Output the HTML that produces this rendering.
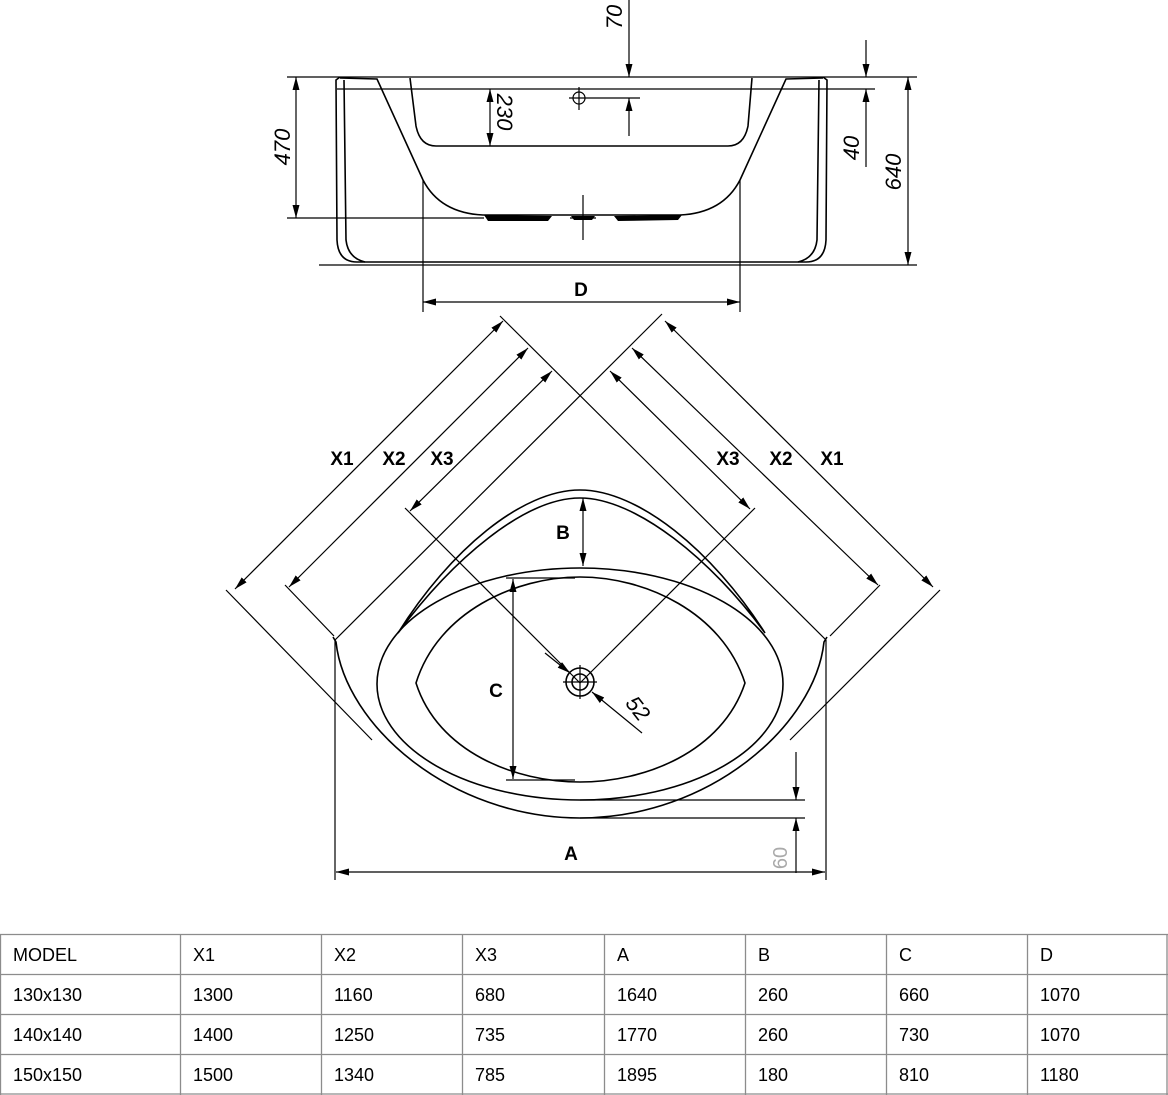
<!DOCTYPE html>
<html><head><meta charset="utf-8"><style>
html,body{margin:0;padding:0;background:#fff}
svg{display:block}
.l{stroke:#000;stroke-width:1.6;fill:none}
.t{stroke:#000;stroke-width:1.2;fill:none}
.b{font-family:"Liberation Sans",sans-serif;font-size:19px;font-weight:bold;fill:#000}
.n{font-family:"Liberation Sans",sans-serif;font-size:22px;font-style:italic;fill:#000}
.tb{font-family:"Liberation Sans",sans-serif;font-size:18px;fill:#000}
</style></head><body>
<svg width="1168" height="1095" viewBox="0 0 1168 1095" xmlns="http://www.w3.org/2000/svg">
<defs>
<marker id="a" markerWidth="14" markerHeight="8" refX="13" refY="3.5" orient="auto-start-reverse" markerUnits="userSpaceOnUse"><path d="M0,0 L13,3.5 L0,7 Z" fill="#000"/></marker>
</defs>

<!-- ===== SIDE VIEW ===== -->
<line class="t" x1="287" y1="77" x2="917" y2="77"/>
<line class="t" x1="337" y1="89" x2="875" y2="89"/>
<line class="t" x1="287" y1="218" x2="484" y2="218"/>
<line class="t" x1="319" y1="265" x2="917" y2="265"/>
<path class="l" d="M340,77 L336,80 L337,240 Q338,262 357,262 L806,262 Q825,262 826,240 L827,80 L823,77"/>
<path class="l" d="M344,80 L346,240 Q348,258 365,262 M819,80 L817,240 Q815,258 798,262"/>
<path class="l" d="M340,78 L377,79 L423,180 Q440,213 483,215 L680,215 Q723,213 740,180 L786,79 L823,78"/>
<path class="l" d="M410,78 L416,126 Q420,146 436,146 L728,146 Q744,146 748,126 L752,78"/>
<path d="M484,215 L552,216 L548,221 L488,221 Z M614,216 L682,215 L678,220 L618,221 Z M571,216 L595,216 L592,220 L574,220 Z" fill="#000"/>
<line class="t" x1="583" y1="195" x2="583" y2="240"/>
<line class="t" x1="570" y1="218" x2="596" y2="218"/>
<circle class="t" cx="579" cy="98" r="6"/>
<line class="t" x1="579" y1="87" x2="579" y2="110"/>
<line class="t" x1="569" y1="98" x2="640" y2="98"/>
<line class="t" x1="629" y1="0" x2="629" y2="77" marker-end="url(#a)"/>
<line class="t" x1="629" y1="136" x2="629" y2="98" marker-end="url(#a)"/>
<text class="n" transform="translate(622,17) rotate(-90)" text-anchor="middle">70</text>
<line class="t" x1="490" y1="89" x2="490" y2="146" marker-start="url(#a)" marker-end="url(#a)"/>
<text class="n" transform="translate(497,112) rotate(90)" text-anchor="middle">230</text>
<line class="t" x1="296" y1="77" x2="296" y2="218" marker-start="url(#a)" marker-end="url(#a)"/>
<text class="n" transform="translate(290,147) rotate(-90)" text-anchor="middle">470</text>
<line class="t" x1="866" y1="40" x2="866" y2="77" marker-end="url(#a)"/>
<line class="t" x1="866" y1="167" x2="866" y2="89" marker-end="url(#a)"/>
<text class="n" transform="translate(859,148) rotate(-90)" text-anchor="middle">40</text>
<line class="t" x1="908" y1="77" x2="908" y2="265" marker-start="url(#a)" marker-end="url(#a)"/>
<text class="n" transform="translate(901,172) rotate(-90)" text-anchor="middle">640</text>
<line class="t" x1="423" y1="180" x2="423" y2="312"/>
<line class="t" x1="740" y1="180" x2="740" y2="312"/>
<line class="t" x1="423" y1="302" x2="740" y2="302" marker-start="url(#a)" marker-end="url(#a)"/>
<text class="b" x="581" y="296" text-anchor="middle">D</text>

<!-- ===== PLAN VIEW ===== -->
<line class="t" x1="500" y1="316" x2="826" y2="640"/>
<line class="t" x1="662" y1="314" x2="335" y2="640"/>
<line class="t" x1="226" y1="590" x2="372" y2="740"/>
<line class="t" x1="285" y1="585" x2="334" y2="636"/>
<line class="t" x1="405" y1="508" x2="580" y2="683"/>
<line class="t" x1="940" y1="590" x2="790" y2="740"/>
<line class="t" x1="880" y1="585" x2="830" y2="636"/>
<line class="t" x1="755" y1="508" x2="580" y2="683"/>
<line class="t" x1="235" y1="589" x2="503" y2="321" marker-start="url(#a)" marker-end="url(#a)"/>
<line class="t" x1="289" y1="587" x2="528" y2="348" marker-start="url(#a)" marker-end="url(#a)"/>
<line class="t" x1="410" y1="511" x2="552" y2="371" marker-start="url(#a)" marker-end="url(#a)"/>
<line class="t" x1="933" y1="587" x2="665" y2="321" marker-start="url(#a)" marker-end="url(#a)"/>
<line class="t" x1="878" y1="585" x2="632" y2="348" marker-start="url(#a)" marker-end="url(#a)"/>
<line class="t" x1="750" y1="509" x2="610" y2="371" marker-start="url(#a)" marker-end="url(#a)"/>
<text class="b" x="342" y="465" text-anchor="middle">X1</text>
<text class="b" x="394" y="465" text-anchor="middle">X2</text>
<text class="b" x="442" y="465" text-anchor="middle">X3</text>
<text class="b" x="728" y="465" text-anchor="middle">X3</text>
<text class="b" x="781" y="465" text-anchor="middle">X2</text>
<text class="b" x="832" y="465" text-anchor="middle">X1</text>
<path class="l" d="M333,637 L336,642 C345,725 450,818 580,818 C710,818 815,725 824,642 L827,637"/>
<ellipse class="l" cx="580" cy="684" rx="203" ry="116"/>
<path class="l" d="M416,683 C438,612 515,577 580,577 C645,577 722,612 745,683 C722,752 645,782 580,782 C515,782 438,752 416,683 Z"/>
<path class="l" d="M398,633 C450,550 522,490 580,490 C638,490 712,550 765,633 C712,560 636,498 580,498 C524,498 452,560 398,633 Z"/>
<line class="t" x1="583" y1="498" x2="583" y2="566" marker-start="url(#a)" marker-end="url(#a)"/>
<text class="b" x="563" y="539" text-anchor="middle">B</text>
<line class="t" x1="506" y1="578" x2="575" y2="578"/>
<line class="t" x1="506" y1="780" x2="575" y2="780"/>
<line class="t" x1="513" y1="579" x2="513" y2="779" marker-start="url(#a)" marker-end="url(#a)"/>
<text class="b" x="496" y="697" text-anchor="middle">C</text>
<circle class="l" cx="580" cy="682" r="14"/>
<circle class="l" cx="580" cy="682" r="8"/>
<line class="t" x1="580" y1="665" x2="580" y2="699"/>
<line class="t" x1="563" y1="682" x2="597" y2="682"/>
<line class="t" x1="545" y1="653" x2="570" y2="673" marker-end="url(#a)"/>
<line class="t" x1="642" y1="733" x2="592" y2="692" marker-end="url(#a)"/>
<text class="n" transform="translate(632,713) rotate(52)" text-anchor="middle">52</text>
<line class="t" x1="580" y1="800" x2="805" y2="800"/>
<line class="t" x1="580" y1="818" x2="805" y2="818"/>
<line class="t" x1="796" y1="752" x2="796" y2="800" marker-end="url(#a)"/>
<line class="t" x1="796" y1="873" x2="796" y2="818" marker-end="url(#a)"/>
<text transform="translate(787,858) rotate(-90)" text-anchor="middle" font-family="Liberation Sans,sans-serif" font-size="20" fill="#aaa">60</text>
<line class="t" x1="335" y1="640" x2="335" y2="880"/>
<line class="t" x1="826" y1="640" x2="826" y2="880"/>
<line class="t" x1="336" y1="872" x2="825" y2="872" marker-start="url(#a)" marker-end="url(#a)"/>
<text class="b" x="571" y="860" text-anchor="middle">A</text>

<!-- ===== TABLE ===== -->
<g stroke="#8c8c8c" stroke-width="1.3">
<line x1="0" y1="934.5" x2="1168" y2="934.5"/>
<line x1="0" y1="974.5" x2="1168" y2="974.5"/>
<line x1="0" y1="1014.5" x2="1168" y2="1014.5"/>
<line x1="0" y1="1054.5" x2="1168" y2="1054.5"/>
<line x1="0" y1="1094" x2="1168" y2="1094"/>
<line x1="0.5" y1="934" x2="0.5" y2="1095"/>
<line x1="180.5" y1="934" x2="180.5" y2="1095"/>
<line x1="321.5" y1="934" x2="321.5" y2="1095"/>
<line x1="462.5" y1="934" x2="462.5" y2="1095"/>
<line x1="604.5" y1="934" x2="604.5" y2="1095"/>
<line x1="745.5" y1="934" x2="745.5" y2="1095"/>
<line x1="886.5" y1="934" x2="886.5" y2="1095"/>
<line x1="1027.5" y1="934" x2="1027.5" y2="1095"/>
<line x1="1167" y1="934" x2="1167" y2="1095"/>
</g>
<g class="tb">
<text x="13" y="961">MODEL</text><text x="193" y="961">X1</text><text x="334" y="961">X2</text><text x="475" y="961">X3</text><text x="617" y="961">A</text><text x="758" y="961">B</text><text x="899" y="961">C</text><text x="1040" y="961">D</text>
<text x="13" y="1001">130x130</text><text x="193" y="1001">1300</text><text x="334" y="1001">1160</text><text x="475" y="1001">680</text><text x="617" y="1001">1640</text><text x="758" y="1001">260</text><text x="899" y="1001">660</text><text x="1040" y="1001">1070</text>
<text x="13" y="1041">140x140</text><text x="193" y="1041">1400</text><text x="334" y="1041">1250</text><text x="475" y="1041">735</text><text x="617" y="1041">1770</text><text x="758" y="1041">260</text><text x="899" y="1041">730</text><text x="1040" y="1041">1070</text>
<text x="13" y="1081">150x150</text><text x="193" y="1081">1500</text><text x="334" y="1081">1340</text><text x="475" y="1081">785</text><text x="617" y="1081">1895</text><text x="758" y="1081">180</text><text x="899" y="1081">810</text><text x="1040" y="1081">1180</text>
</g>
</svg>
</body></html>
